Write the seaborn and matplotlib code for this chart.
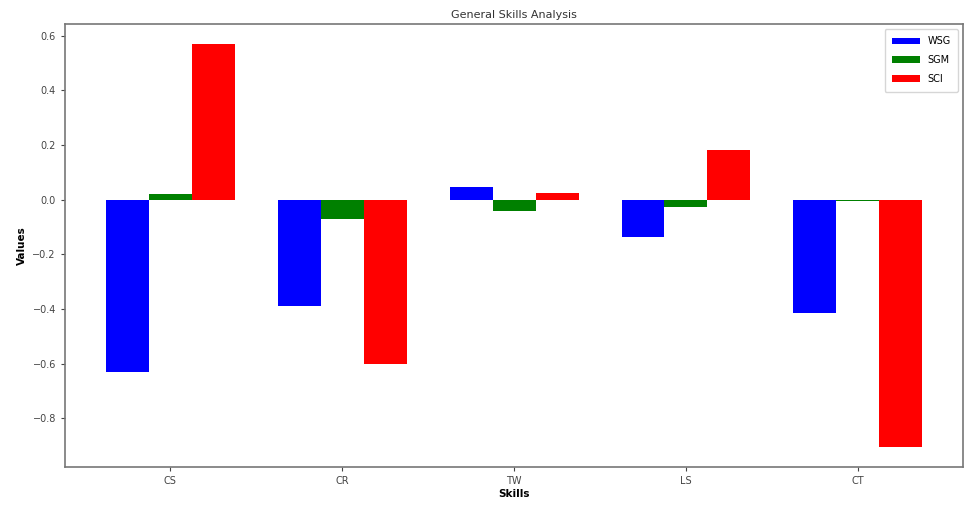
import matplotlib
matplotlib.use("Agg")
import matplotlib.pyplot as plt
import pandas as pd
import seaborn as sns

skills = ["CS", "CR", "TW", "LS", "CT"]
wsg = [-0.63, -0.39, 0.048, -0.135, -0.415]
sgm = [0.022, -0.07, -0.04, -0.026, -0.005]
sci = [0.57, -0.60, 0.026, 0.183, -0.905]
series = ["WSG", "SGM", "SCI"]
colors = ["#0000ff", "#008000", "#ff0000"]

df = pd.DataFrame({
    "Skills": skills * 3,
    "Values": wsg + sgm + sci,
    "Series": [s for s in series for _ in skills],
})

fig = plt.figure(figsize=(9.69, 5.05), dpi=100)
ax = fig.add_axes([0.067, 0.075, 0.927, 0.878])

sns.barplot(data=df, x="Skills", y="Values", hue="Series", order=skills,
            hue_order=series, palette=colors, saturation=1, width=0.75,
            errorbar=None, ax=ax)

ax.set_xlim(-0.6125, 4.6125)
ax.set_ylim(-0.979, 0.644)
ax.set_title("General Skills Analysis", fontsize=8, color="#333333", pad=4)
ax.set_xlabel("Skills", fontsize=7.5, fontweight="bold", labelpad=2)
ax.set_ylabel("Values", fontsize=7.5, fontweight="bold", labelpad=4)
ax.tick_params(labelsize=7, colors="#444444", length=3)
for s in ax.spines.values():
    s.set_color("#777777")
    s.set_linewidth(1.2)

ax.legend(title=None, loc="upper right", fontsize=7, handlelength=2.8,
          labelspacing=0.9, borderpad=0.8, frameon=True)

plt.savefig("out.png", dpi=100)
